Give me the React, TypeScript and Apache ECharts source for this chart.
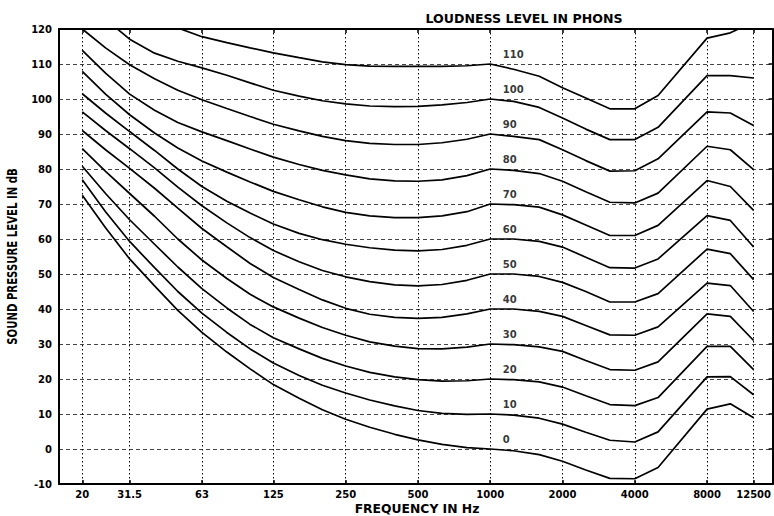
import React, { useEffect, useRef } from "react";
import * as echarts from "echarts";

// Frequencies (Hz) at which each contour is sampled
const FREQS = [20, 25, 31.5, 40, 50, 63, 80, 100, 125, 160, 200, 250, 315, 400, 500, 630, 800, 1000, 1250, 1600, 2000, 2500, 3150, 4000, 5000, 8000, 10000, 12500];

// Sound pressure level (dB) for each loudness level (phons)
const P0 = [72.5, 63.2, 54.3, 46.6, 39.6, 33.3, 27.7, 22.9, 18.4, 14.5, 11.2, 8.5, 6.2, 4.2, 2.6, 1.3, 0.4, 0, -0.5, -1.6, -3.5, -6.0, -8.4, -8.5, -5.3, 11.4, 12.9, 8.9];
const P10 = [76.9, 67.8, 59.3, 51.8, 45.0, 38.8, 33.3, 28.6, 24.6, 21.0, 18.2, 16.0, 14.0, 12.3, 11.0, 10.2, 9.9, 10, 9.7, 8.8, 7.1, 4.8, 2.5, 2.0, 4.9, 20.6, 20.7, 15.5];
const P20 = [80.8, 73.0, 65.5, 58.5, 52.0, 45.8, 40.3, 35.6, 31.8, 28.6, 25.9, 23.7, 21.9, 20.6, 19.8, 19.4, 19.5, 20, 19.8, 19.2, 17.7, 15.2, 12.7, 12.4, 14.7, 29.3, 29.3, 22.7];
const P30 = [85.8, 79.3, 73.0, 66.5, 60.0, 54.0, 48.7, 44.2, 40.6, 37.4, 34.7, 32.5, 30.6, 29.4, 28.7, 28.6, 29.1, 30, 29.8, 29.2, 27.9, 25.3, 22.7, 22.5, 24.9, 38.6, 37.9, 31.0];
const P40 = [91.0, 85.5, 80.2, 74.5, 68.8, 63.0, 57.8, 53.0, 49.0, 45.6, 42.6, 40.2, 38.5, 37.6, 37.3, 37.6, 38.6, 40, 40, 39.3, 37.9, 35.3, 32.6, 32.5, 34.9, 47.4, 46.7, 39.3];
const P50 = [96.3, 91.0, 85.8, 80.3, 74.8, 69.5, 64.6, 60.4, 56.7, 53.5, 51.0, 49.2, 47.8, 46.9, 46.6, 47.0, 48.2, 50, 50, 49.3, 47.6, 45.0, 42.0, 42.0, 44.4, 57.1, 55.8, 48.4];
const P60 = [101.5, 96.0, 90.7, 85.3, 80.0, 75.0, 70.8, 67.4, 64.3, 61.6, 59.8, 58.5, 57.5, 56.8, 56.6, 57.0, 58.2, 60, 60, 59.3, 57.7, 54.8, 51.8, 51.7, 54.3, 66.7, 65.3, 57.7];
const P70 = [107.9, 101.4, 95.5, 90.3, 86.0, 82.3, 79.1, 76.3, 73.6, 71.2, 69.2, 67.6, 66.6, 66.1, 66.1, 66.6, 67.8, 70, 69.8, 69.1, 66.9, 64.0, 61.0, 61.0, 63.9, 76.7, 75.0, 68.2];
const P80 = [113.9, 107.4, 101.4, 96.8, 93.3, 90.6, 88.1, 85.7, 83.4, 81.3, 79.6, 78.3, 77.2, 76.6, 76.5, 76.9, 78.1, 80, 79.6, 78.7, 76.5, 73.5, 70.5, 70.3, 73.1, 86.5, 85.5, 79.8];
const P90 = [120.0, 114.6, 109.8, 105.8, 102.5, 99.8, 97.3, 95.0, 92.8, 90.9, 89.3, 88.1, 87.3, 87.0, 87.0, 87.5, 88.5, 90, 89.3, 88.4, 85.5, 82.4, 79.4, 79.5, 82.9, 96.3, 96.0, 92.4];
const P100 = [129.0, 122.8, 117.1, 113.1, 110.8, 108.9, 106.8, 104.6, 102.5, 100.8, 99.5, 98.6, 98.0, 97.8, 97.9, 98.3, 99.0, 100, 99.3, 97.6, 94.6, 91.4, 88.4, 88.4, 91.9, 106.7, 106.7, 106.0];
const P110 = [140.0, 134.0, 128.5, 124.0, 120.3, 117.8, 116.1, 114.6, 113.2, 111.8, 110.6, 109.8, 109.4, 109.3, 109.3, 109.3, 109.5, 110, 108.5, 106.5, 103.2, 100.3, 97.2, 97.2, 101.0, 117.4, 118.9, 122.0];

const PHONS = [0, 10, 20, 30, 40, 50, 60, 70, 80, 90, 100, 110];
const CONTOURS = [P0, P10, P20, P30, P40, P50, P60, P70, P80, P90, P100, P110];
const LABEL_FREQ = 1000;

// Axis ticks
const FREQ_TICKS = [20, 31.5, 63, 125, 250, 500, 1000, 2000, 4000, 8000, 12500];
const FREQ_TICK_LABELS = ["20", "31.5", "63", "125", "250", "500", "1000", "2000", "4000", "8000", "12500"];
const FREQ_MIN = 16;
const FREQ_MAX = 15000;
const DB_MIN = -10;
const DB_MAX = 120;
const DB_STEP = 10;

const TITLE = "LOUDNESS LEVEL IN PHONS";
const X_TITLE = "FREQUENCY IN Hz";
const Y_TITLE = "SOUND PRESSURE LEVEL IN dB";

export default function App() {
  const ref = useRef<HTMLDivElement>(null);

  useEffect(() => {
    if (!ref.current) return;
    const chart = echarts.init(ref.current, null, { renderer: "svg" });
    const lg = (f: number) => Math.log2(f);
    const tickPos = FREQ_TICKS.map(lg);
    const fmt = (v: number) => {
      let best = 0;
      let bd = Infinity;
      tickPos.forEach((t, i) => {
        const d = Math.abs(t - v);
        if (d < bd) {
          bd = d;
          best = i;
        }
      });
      return FREQ_TICK_LABELS[best];
    };
    const font = "'DejaVu Sans', Verdana, sans-serif";
    const axisLineStyle = { color: "#000", width: 2 };

    const lineSeries = CONTOURS.map((vals, k) => ({
      type: "line",
      name: String(PHONS[k]),
      data: FREQS.map((f, i) => [lg(f), vals[i]]),
      showSymbol: false,
      symbol: "none",
      clip: true,
      silent: true,
      lineStyle: { color: "#000", width: 1.7 },
      z: 5,
    }));

    const labelSeries = {
      type: "scatter",
      data: PHONS.map((p) => [lg(LABEL_FREQ), p]),
      symbolSize: 1,
      itemStyle: { color: "rgba(0,0,0,0)" },
      silent: true,
      z: 6,
      label: {
        show: true,
        position: "right",
        distance: 5,
        offset: [7, -10],
        align: "left",
        formatter: (p: any) => String(p.value[1]),
        color: "#000",
        fontFamily: font,
        fontWeight: "bold",
        fontSize: 10,
      },
    };

    const option = {
      animation: false,
      backgroundColor: "#fff",
      grid: { left: 59, top: 29, width: 717, height: 455, containLabel: false },
      xAxis: [
        {
          type: "value",
          position: "bottom",
          min: lg(FREQ_MIN),
          max: lg(FREQ_MAX),
          axisLine: { show: true, onZero: false, lineStyle: axisLineStyle },
          axisTick: { show: true, inside: true, length: 4, customValues: tickPos, lineStyle: { color: "#000", width: 1.5 } },
          axisLabel: {
            show: true,
            customValues: tickPos,
            formatter: fmt,
            color: "#000",
            fontFamily: font,
            fontWeight: "bold",
            fontSize: 10,
            margin: 5,
          },
          splitLine: { show: true, lineStyle: { color: "#000", type: [1.5, 2.5], width: 1 } },
        },
        {
          type: "value",
          position: "top",
          min: lg(FREQ_MIN),
          max: lg(FREQ_MAX),
          axisLine: { show: true, onZero: false, lineStyle: axisLineStyle },
          axisTick: { show: true, inside: true, length: 4, customValues: tickPos, lineStyle: { color: "#000", width: 1.5 } },
          axisLabel: { show: false },
          splitLine: { show: false },
        },
      ],
      yAxis: [
        {
          type: "value",
          position: "left",
          min: DB_MIN,
          max: DB_MAX,
          interval: DB_STEP,
          axisLine: { show: true, onZero: false, lineStyle: axisLineStyle },
          axisTick: { show: false },
          axisLabel: {
            color: "#000",
            fontFamily: font,
            fontWeight: "bold",
            fontSize: 10,
            margin: 7,
          },
          splitLine: { show: true, lineStyle: { color: "#444", type: [4, 3], width: 1 } },
        },
        {
          type: "value",
          position: "right",
          min: DB_MIN,
          max: DB_MAX,
          interval: DB_STEP,
          axisLine: { show: true, onZero: false, lineStyle: axisLineStyle },
          axisTick: { show: true, inside: true, length: 4, lineStyle: { color: "#000", width: 1.5 } },
          axisLabel: { show: false },
          splitLine: { show: false },
        },
      ],
      graphic: [
        {
          type: "text",
          x: 524,
          y: 19,
          scaleX: 1.05,
          silent: true,
          style: {
            text: TITLE,
            align: "center",
            verticalAlign: "middle",
            fontFamily: font,
            fontWeight: "bold",
            fontSize: 12,
            fill: "#000",
          },
        },
        {
          type: "text",
          x: 417,
          y: 509,
          scaleX: 1.03,
          silent: true,
          style: {
            text: X_TITLE,
            align: "center",
            verticalAlign: "middle",
            fontFamily: font,
            fontWeight: "bold",
            fontSize: 12,
            fill: "#000",
          },
        },
        {
          type: "text",
          x: 12.5,
          y: 256.5,
          rotation: Math.PI / 2,
          scaleX: 0.752,
          silent: true,
          style: {
            text: Y_TITLE,
            align: "center",
            verticalAlign: "middle",
            fontFamily: font,
            fontWeight: "bold",
            fontSize: 13.5,
            fill: "#000",
          },
        },
      ],
      series: [...lineSeries, labelSeries],
    };

    chart.setOption(option as any);
    return () => {
      chart.dispose();
    };
  }, []);

  return (
    <div
      ref={ref}
      style={{ position: "absolute", left: 0, top: 0, width: 774, height: 516, background: "#fff" }}
    />
  );
}
